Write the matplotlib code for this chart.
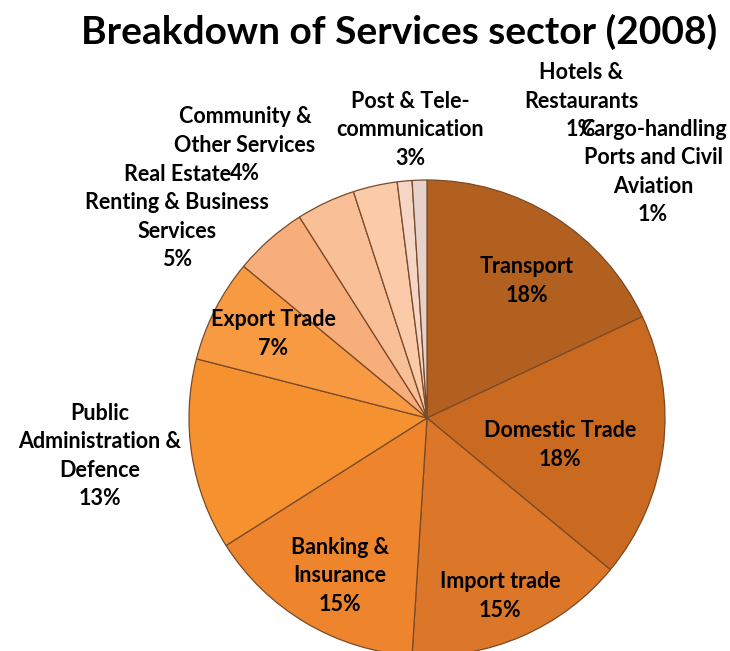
import matplotlib

matplotlib.use("Agg")

import matplotlib.pyplot as plt

sectors = [
    "Transport",
    "Domestic Trade",
    "Import trade",
    "Banking &\nInsurance",
    "Public\nAdministration &\nDefence",
    "Export Trade",
    "Real Estate\nRenting & Business\nServices",
    "Community &\nOther Services",
    "Post & Tele-\ncommunication",
    "Hotels &\nRestaurants",
    "Cargo-handling\nPorts and Civil\nAviation",
]
shares = [18, 18, 15, 15, 13, 7, 5, 4, 3, 1, 1]

colors = [
    "#b2601f", "#c96a20", "#dc7628", "#ee852d", "#f6912f", "#f89a42",
    "#f7ae7a", "#f9bf96", "#fbcaa9", "#f5d5c6", "#e6d2cb",
]

# label block centres in pixel space (figure is 730 x 651)
label_xy = [
    (527, 281), (560, 445), (500, 596), (340, 576), (100, 456), (273, 334),
    (177, 217), (245, 145), (410, 130), (581, 101), (653, 172),
]

W, H = 730, 651
fig = plt.figure(figsize=(W / 100, H / 100), dpi=100)
ax = fig.add_axes([0, 0, 1, 1])

ax.pie(
    shares,
    colors=colors,
    startangle=90,
    counterclock=False,
    center=(427, H - 418),
    radius=238,
    frame=True,
    wedgeprops=dict(edgecolor="#7a4a28", linewidth=0.9),
)
ax.set_xlim(0, W)
ax.set_ylim(0, H)
ax.set_axis_off()

for name, pct, (x, y) in zip(sectors, shares, label_xy):
    ax.text(x, H - y, f"{name}\n{pct}%", ha="center", va="center",
            fontsize=15.5, fontweight="bold", family="Lato",
            linespacing=1.42, color="black")

ax.text(399, H - 32, "Breakdown of Services sector (2008)", ha="center",
        va="center", fontsize=28, fontweight="bold", family="Lato")

fig.savefig("out.png", dpi=100)
plt.close(fig)
